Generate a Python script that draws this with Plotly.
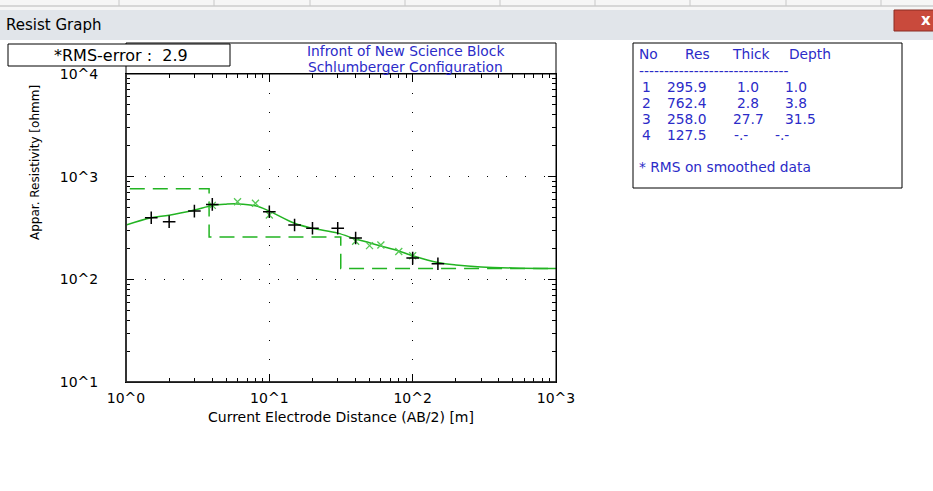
import plotly.graph_objects as go

# ---------------- data ----------------
ab_obs = [1.5, 2, 3, 4, 10, 15, 20, 30, 40, 100, 150]
rho_obs = [398, 364, 462, 537, 455, 338, 314, 314, 253, 161, 142]

ab_smooth = [4, 6, 8, 10, 40, 50, 60, 80, 100]
rho_smooth = [525, 570, 550, 423, 235, 213, 216, 187, 170]

ab_curve = [1, 1.5, 2, 3, 4, 5, 6, 8, 10, 15, 20, 30, 40, 50, 60, 80, 100, 150, 200, 300, 500, 1000]
rho_curve = [338, 398, 420, 473, 525, 540, 543, 520, 462, 352, 314, 282, 247, 227, 211, 189, 170, 146, 138, 132, 129, 127.5]

layer_no = [1, 2, 3, 4]
layer_res = [295.9, 762.4, 258.0, 127.5]
layer_thick = ["1.0", "2.8", "27.7", "-.-"]
layer_depth = [1.0, 3.8, 31.5, None]

x_tickvals = [1, 10, 100, 1000]
x_ticktext = ["10^0", "10^1", "10^2", "10^3"]
y_tickvals = [10, 100, 1000, 10000]
y_ticktext = ["10^1", "10^2", "10^3", "10^4"]

rms_error = 2.9
plot_title = ["Infront of New Science Block", "Schlumberger Configuration"]

# build step model from layers
step_x = [1.0]
step_y = [layer_res[0]]
top = 1.0
for i, r in enumerate(layer_res):
    step_x.append(top)
    step_y.append(r)
    bottom = layer_depth[i] if layer_depth[i] is not None else 1000
    step_x.append(bottom)
    step_y.append(r)
    top = bottom

# ---------------- geometry helpers (pixels -> paper) ----------------
W, H = 933, 491
L, R, T, B = 126, 556, 74, 382
PW, PH = R - L, B - T


def X(px):
    return (px - L) / PW


def Y(py):
    return (B - py) / PH


FONT = "DejaVu Sans, Verdana, sans-serif"
BLUE = "#2b2bc8"
GREEN = "#22b422"
LGREEN = "#55c855"
TXT = 13.8

fig = go.Figure()

fig.add_trace(go.Scatter(x=step_x, y=step_y, mode="lines",
                         line=dict(color=GREEN, width=1.5, dash="15px,8px"),
                         showlegend=False, hoverinfo="skip"))
fig.add_trace(go.Scatter(x=ab_curve, y=rho_curve, mode="lines", line_shape="spline",
                         line=dict(color=GREEN, width=1.5),
                         showlegend=False))
fig.add_trace(go.Scatter(x=ab_smooth, y=rho_smooth, mode="markers",
                         marker=dict(symbol="x-thin", size=7, line=dict(color=LGREEN, width=1.3)),
                         showlegend=False))
fig.add_trace(go.Scatter(x=ab_obs, y=rho_obs, mode="markers",
                         marker=dict(symbol="cross-thin", size=9, line=dict(color="black", width=1.5)),
                         showlegend=False))

minor_vals = [m * 10 ** e for e in range(0, 4) for m in range(2, 10)]

fig.update_xaxes(type="log", range=[0, 3], tickvals=x_tickvals, ticktext=x_ticktext,
                 ticks="inside", ticklen=8, tickcolor="black",
                 showline=True, linecolor="black", linewidth=1, mirror="ticks",
                 showgrid=True, gridcolor="black", gridwidth=1, griddash="1px,18px",
                 zeroline=False, ticklabelstandoff=3,
                 tickfont=dict(family=FONT, size=14, color="black"),
                 minor=dict(tickvals=minor_vals, ticks="inside", ticklen=4, tickcolor="black", showgrid=False))
fig.update_yaxes(type="log", range=[1, 4], tickvals=y_tickvals, ticktext=y_ticktext,
                 ticks="inside", ticklen=8, tickcolor="black",
                 showline=True, linecolor="black", linewidth=1, mirror="ticks",
                 showgrid=True, gridcolor="black", gridwidth=1, griddash="1px,18px",
                 zeroline=False, ticklabelstandoff=24,
                 tickfont=dict(family=FONT, size=14, color="black"),
                 minor=dict(tickvals=minor_vals, ticks="inside", ticklen=4, tickcolor="black", showgrid=False))

shapes = []
ann = []

# window chrome
shapes.append(dict(type="rect", xref="paper", yref="paper", x0=X(0), x1=X(W), y0=Y(0), y1=Y(10),
                   fillcolor="#f6f6f6", line=dict(width=0), layer="below"))
shapes.append(dict(type="line", xref="paper", yref="paper", x0=X(0), x1=X(W), y0=Y(6), y1=Y(6),
                   line=dict(color="#b8b8b8", width=1)))
for sx in [119, 214, 310, 405, 500, 595, 690, 786, 881]:
    shapes.append(dict(type="line", xref="paper", yref="paper", x0=X(sx), x1=X(sx), y0=Y(0), y1=Y(6),
                       line=dict(color="#c8c8c8", width=1)))
shapes.append(dict(type="rect", xref="paper", yref="paper", x0=X(0), x1=X(W), y0=Y(10), y1=Y(40),
                   fillcolor="#e1e5ea", line=dict(width=0), layer="below"))
shapes.append(dict(type="rect", xref="paper", yref="paper", x0=X(894), x1=X(940), y0=Y(10), y1=Y(31),
                   fillcolor="#c94a3c", line=dict(color="#8a2c22", width=1)))
ann.append(dict(x=X(926), y=Y(20), xref="paper", yref="paper", text="<b>x</b>", showarrow=False,
                font=dict(family=FONT, size=15, color="white"), xanchor="center", yanchor="middle"))
ann.append(dict(x=X(4), y=Y(25), xref="paper", yref="paper", text="Resist Graph", showarrow=False,
                font=dict(family=FONT, size=15, color="black"),
                xanchor="left", yanchor="middle"))

# frame with title band
shapes.append(dict(type="rect", xref="paper", yref="paper", x0=X(L), x1=X(R), y0=Y(43), y1=Y(B),
                   line=dict(color="black", width=1)))
shapes.append(dict(type="line", xref="paper", yref="paper", x0=X(L), x1=X(R), y0=Y(T), y1=Y(T),
                   line=dict(color="black", width=1)))
shapes.append(dict(type="line", xref="paper", yref="paper", x0=X(L), x1=X(L), y0=Y(T), y1=Y(B),
                   line=dict(color="#333333", width=2)))
shapes.append(dict(type="line", xref="paper", yref="paper", x0=X(L), x1=X(R), y0=Y(B), y1=Y(B),
                   line=dict(color="#222222", width=1.5)))
ann.append(dict(x=X(405), y=Y(51), xref="paper", yref="paper", text=plot_title[0], showarrow=False,
                borderpad=0, font=dict(family=FONT, size=TXT, color=BLUE), xanchor="center", yanchor="middle"))
ann.append(dict(x=X(405), y=Y(67), xref="paper", yref="paper", text=plot_title[1], showarrow=False,
                borderpad=0, font=dict(family=FONT, size=TXT, color=BLUE), xanchor="center", yanchor="middle"))

# RMS box
shapes.append(dict(type="rect", xref="paper", yref="paper", x0=X(8), x1=X(230), y0=Y(44), y1=Y(66),
                   fillcolor="white", line=dict(color="black", width=1)))
ann.append(dict(x=X(121), y=Y(56), xref="paper", yref="paper", text="*RMS-error :  %.1f" % rms_error,
                showarrow=False, borderpad=0, font=dict(family=FONT, size=16, color="black"),
                xanchor="center", yanchor="middle"))

# layer table box
shapes.append(dict(type="rect", xref="paper", yref="paper", x0=X(633), x1=X(902), y0=Y(43), y1=Y(188),
                   fillcolor="white", line=dict(color="black", width=1)))


def tx(px, py, text, anchor="left"):
    ann.append(dict(x=X(px), y=Y(py), xref="paper", yref="paper", text=text, showarrow=False,
                    borderpad=0, font=dict(family=FONT, size=TXT, color=BLUE),
                    xanchor=anchor, yanchor="middle"))


tx(638, 54, "No")
tx(684, 54, "Res")
tx(731, 54, "Thick")
tx(788, 54, "Depth")
tx(638, 71, "-" * 30)
row_y = [87, 103, 119, 135]
for i in range(4):
    tx(641, row_y[i], str(layer_no[i]))
    tx(666, row_y[i], "%.1f" % layer_res[i])
    if layer_depth[i] is not None:
        tx(760 if len(layer_thick[i]) <= 3 else 765, row_y[i], layer_thick[i], "right")
        tx(784, row_y[i], "%.1f" % layer_depth[i])
    else:
        tx(733, row_y[i], "-.-")
        tx(774, row_y[i], "-.-")
tx(638, 167, "* RMS on smoothed data")

# axis titles
ann.append(dict(x=X(35), y=Y(163), xref="paper", yref="paper", text="Appar. Resistivity [ohmm]",
                showarrow=False, textangle=-90, font=dict(family=FONT, size=12, color="black"),
                xanchor="center", yanchor="middle"))
ann.append(dict(x=X(341), y=Y(417), xref="paper", yref="paper",
                text="Current Electrode Distance (AB/2) [m]",
                showarrow=False, font=dict(family=FONT, size=14, color="black"),
                xanchor="center", yanchor="middle"))

fig.update_layout(width=W, height=H, margin=dict(l=L, r=W - R, t=T, b=H - B, pad=0),
                  paper_bgcolor="white", plot_bgcolor="white",
                  shapes=shapes, annotations=ann, showlegend=False)

fig.write_html("out.html", config={"displayModeBar": False},
               post_script="document.body.style.margin='0';document.body.style.overflow='hidden';")
